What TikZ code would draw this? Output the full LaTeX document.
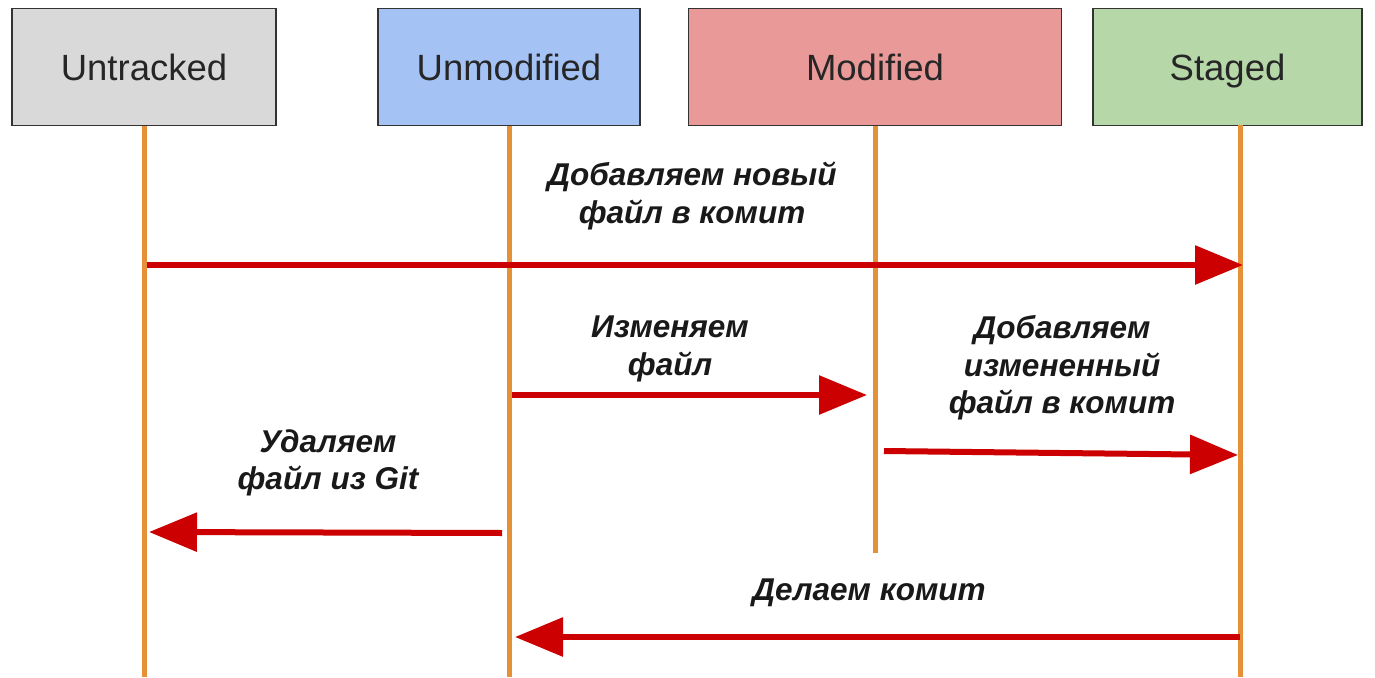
\documentclass[tikz,border=0pt]{standalone}
\usepackage{fontspec}
\setmainfont{Liberation Sans}
\usetikzlibrary{arrows.meta}
\definecolor{boxgray}{HTML}{D9D9D9}
\definecolor{boxblue}{HTML}{A4C2F4}
\definecolor{boxred}{HTML}{EA9999}
\definecolor{boxgreen}{HTML}{B6D7A8}
\definecolor{lifeorange}{HTML}{E69138}
\definecolor{arrowred}{HTML}{CC0000}
\definecolor{edgegray}{HTML}{333333}
\tikzset{
  state/.style={draw=edgegray, line width=1.5pt, inner sep=0pt,
    text height=27pt, text depth=0pt,
    font=\fontsize{36.5}{40}\selectfont, text=black!85},
  lifeline/.style={draw=lifeorange, line width=5pt},
  msg/.style={draw=arrowred, line width=6pt,
    -{Triangle[length=48pt,width=38pt,fill=arrowred]}},
  msglabel/.style={align=center, inner sep=0pt,
    font=\fontsize{31.5}{37.5}\selectfont\bfseries\itshape, text=black!90}
}
\begin{document}
\begin{tikzpicture}[x=1pt,y=-1pt]
  \useasboundingbox[fill=white] (0,0) rectangle (1375,677);

  % state boxes
  \node[state, fill=boxgray,  minimum width=264pt, minimum height=117pt] (untracked)  at (144,67)    {Untracked};
  \node[state, fill=boxblue,  minimum width=262pt, minimum height=117pt] (unmodified) at (509,67)    {Unmodified};
  \node[state, fill=boxred,   minimum width=373pt, minimum height=117pt] (modified)   at (875,67)    {Modified};
  \node[state, fill=boxgreen, minimum width=269pt, minimum height=117pt] (staged)     at (1227.5,67) {Staged};

  % lifeline ends
  \coordinate (untrackedEnd)  at (144,677);
  \coordinate (unmodifiedEnd) at (509,677);
  \coordinate (modifiedEnd)   at (875,553);
  \coordinate (stagedEnd)     at (1240,677);
  \coordinate (stagedTop)     at (1240,125);

  % lifelines
  \draw[lifeline] (untracked.south)  -- (untrackedEnd);
  \draw[lifeline] (unmodified.south) -- (unmodifiedEnd);
  \draw[lifeline] (modified.south)   -- (modifiedEnd);
  \draw[lifeline] (stagedTop)        -- (stagedEnd);

  % message end points on the lifelines
  \coordinate (addNewFrom)  at (147,265);
  \coordinate (addNewTo)    at (1243,265);
  \coordinate (editFrom)    at (512,395);
  \coordinate (editTo)      at (867,395);
  \coordinate (addModFrom)  at (884,451);
  \coordinate (addModTo)    at (1238,455);
  \coordinate (removeFrom)  at (502,533);
  \coordinate (removeTo)    at (149,532);
  \coordinate (commitFrom)  at (1240,637);
  \coordinate (commitTo)    at (515,637);

  % messages
  \draw[msg] (addNewFrom) -- (addNewTo);
  \draw[msg] (editFrom)   -- (editTo);
  \draw[msg] (addModFrom) -- (addModTo);
  \draw[msg] (removeFrom) -- (removeTo);
  \draw[msg] (commitFrom) -- (commitTo);

  % message labels
  \node[msglabel] (lblAddNew) at (692,196)  {Добавляем новый\\файл в комит};
  \node[msglabel] (lblEdit)   at (670,349)  {Изменяем\\файл};
  \node[msglabel] (lblAddMod) at (1062,368) {Добавляем\\измененный\\файл в комит};
  \node[msglabel] (lblRemove) at (328,463)  {Удаляем\\файл из Git};
  \node[msglabel] (lblCommit) at (869,593)  {Делаем комит};
\end{tikzpicture}
\end{document}
